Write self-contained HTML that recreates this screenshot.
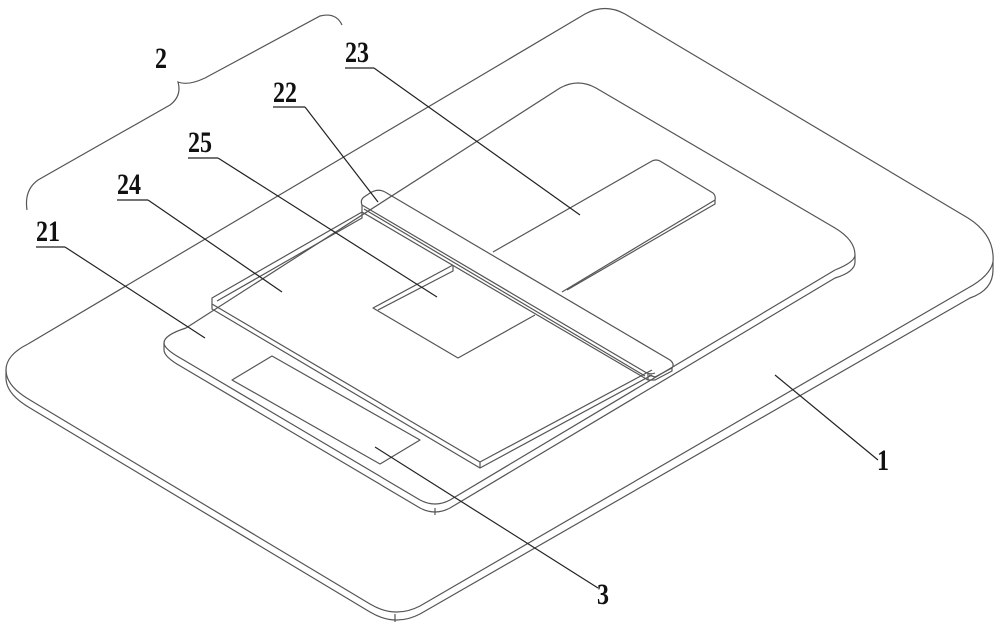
<!DOCTYPE html>
<html><head><meta charset="utf-8"><style>
html,body{margin:0;padding:0;background:#fff;width:1000px;height:624px;overflow:hidden}
svg{display:block}
text{font-family:"Liberation Serif",serif;font-weight:bold;font-size:30px;fill:#111}
</style></head><body>
<svg width="1000" height="624" viewBox="0 0 1000 624" xmlns="http://www.w3.org/2000/svg">
<g fill="none" stroke="#555" stroke-width="1.2" stroke-linejoin="round">
<!-- outer plate 1 -->
<path d="M28,344 L585,14 Q605,3 625,14 L968,218 Q995,235 993,262 L993,270"/>
<path d="M968,288 Q990,276 993,262"/>
<path d="M968,288 L420,606 Q395,619 370,604 L30,400 Q6,386 6,370 Q6,355 28,344"/>
<path d="M993,270 Q993,290 970,298 L420,614 Q395,627 370,612 L30,408 Q6,394 6,378 L6,370"/>
<path d="M395,614 L395,622"/>
<!-- inner plate 21 -->
<path d="M186,328 L560,88 Q578,78 596,88 L835,228 Q855,240 855,255"/>
<path d="M835,270 Q855,262 855,255 L855,262"/>
<path d="M835,270 L450,500 Q435,508 420,500 L182,359 Q164,349 164,343 Q164,335 186,328"/>
<path d="M855,262 Q855,272 835,278 L450,508 Q435,516 420,508 L182,367 Q164,357 164,350 L164,343"/>
<path d="M435,508 L435,515"/>
<!-- plate 24 -->
<path d="M362,212 L212,298 L212,304 L480,462 L652,370"/>
<path d="M212,304 L212,309 L480,468 L652,375"/>
<path d="M480,462 L480,468"/>
<path d="M362,212 L362,218 L217,301"/>
<!-- pad 25 -->
<path d="M453,265 L373,308 L458,358 L535,315"/>
<path d="M453,265 L453,271 L378,310"/>
<!-- pad 23 -->
<path d="M493,252 L652,161 Q656,159 660,161 L713,193 Q716,196 715,200 L562,292"/>
<path d="M715,200 L715,204 L567,290"/>
<!-- bar 22 -->
<path d="M385,192 L670,360 Q675,364 672,368 L655,377 L649,375"/>
<path d="M385,192 Q378,188 370,193 L364,197 Q360,200 362,205 L645,372 Q650,375 655,373"/>
<path d="M362,205 L362,212 L648,380 L655,380 L672,371 L672,367"/>
<path d="M648,373 L648,380"/>
<path d="M364,209 L645,376"/>
<!-- pad 3 -->
<path d="M232,380 L272,356 L420,440 L380,464 Z"/>
</g>
<!-- brace -->
<path d="M342,25 Q336,12 320,16 L205,78 Q188,86 178,82 Q182,96 170,105 L38,180 Q24,190 27,210" fill="none" stroke="#555" stroke-width="1.2"/>
<!-- leaders -->
<g stroke="#222" stroke-width="1.2" fill="none">
<line x1="345" y1="68" x2="374" y2="68"/><line x1="374" y1="68" x2="580" y2="215"/>
<line x1="273" y1="107" x2="305" y2="107"/><line x1="305" y1="107" x2="378" y2="202"/>
<line x1="188" y1="158" x2="218" y2="158"/><line x1="218" y1="158" x2="437" y2="297"/>
<line x1="117" y1="200" x2="148" y2="200"/><line x1="148" y1="200" x2="282" y2="292"/>
<line x1="36" y1="247" x2="65" y2="247"/><line x1="65" y1="247" x2="205" y2="338"/>
<line x1="878" y1="460" x2="775" y2="375"/>
<line x1="598" y1="588" x2="375" y2="447"/>
</g>
<g>
<text x="155" y="68" transform="translate(155 0) scale(0.8 1) translate(-155 0)">2</text>
<text x="345" y="62" transform="translate(345 0) scale(0.8 1) translate(-345 0)">23</text>
<text x="273" y="102" transform="translate(273 0) scale(0.8 1) translate(-273 0)">22</text>
<text x="188" y="152" transform="translate(188 0) scale(0.8 1) translate(-188 0)">25</text>
<text x="117" y="194" transform="translate(117 0) scale(0.8 1) translate(-117 0)">24</text>
<text x="36" y="241" transform="translate(36 0) scale(0.8 1) translate(-36 0)">21</text>
<text x="877" y="470" transform="translate(877 0) scale(0.8 1) translate(-877 0)">1</text>
<text x="597" y="604" transform="translate(597 0) scale(0.8 1) translate(-597 0)">3</text>
</g>
</svg>
</body></html>
